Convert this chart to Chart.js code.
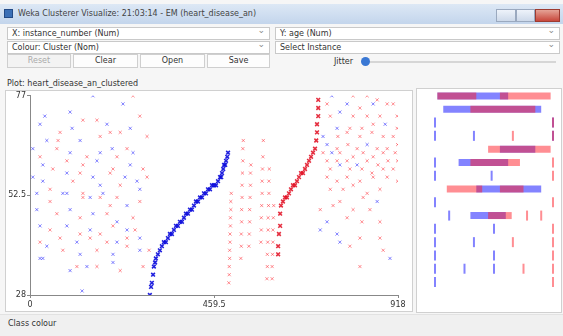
<!DOCTYPE html>
<html>
<head>
<meta charset="utf-8">
<script src="https://cdn.jsdelivr.net/npm/chart.js@4.4.0/dist/chart.umd.min.js"></script>
<style>
  body { margin: 0; width: 563px; height: 336px; overflow: hidden; position: relative;
         background: #f6f6f6; font-family: "DejaVu Sans", sans-serif; font-size: 8px; color: #333; }
  .abs { position: absolute; box-sizing: border-box; }
  #titlebar { left: 0; top: 4px; width: 563px; height: 20px; background: linear-gradient(#dde8f5, #c3d5ec); }
  #titlebar .icon { left: 4px; top: 5px; width: 9px; height: 9px; background: #3b6fb6; border: 1px solid #234a86; }
  #titlebar .txt { left: 18px; top: 5px; color: #444; white-space: nowrap; }
  .wbtn { top: 5px; height: 13px; border: 1px solid #9aa9bf; background: linear-gradient(#eef3fa, #cdd9ea); }
  .combo { height: 13px; background: #fff; border: 1px solid #c9c9c9; padding: 1px 4px; white-space: nowrap; }
  .combo:after { content: "\2304"; position: absolute; right: 4px; top: -3px; color: #888; font-size: 9px; }
  .btn { top: 54px; height: 14px; background: #fdfdfd; border: 1px solid #cfcfcf; text-align: center; line-height: 12px; }
  .panel { background: #fff; border: 1px solid #d0d0d0; }
</style>
</head>
<body>
<div id="titlebar" class="abs">
  <div class="abs icon"></div>
  <div class="abs txt">Weka Clusterer Visualize: 21:03:14 - EM (heart_disease_an)</div>
  <div class="abs wbtn" style="left:496px;width:20px"></div>
  <div class="abs wbtn" style="left:516px;width:19px"></div>
  <div class="abs wbtn" style="left:535px;width:25px;background:linear-gradient(#e5a396,#c8473b);border-color:#9d3b31"></div>
</div>

<div class="abs combo" style="left:7px;top:27px;width:263px">X: instance_number (Num)</div>
<div class="abs combo" style="left:275px;top:27px;width:285px">Y: age (Num)</div>
<div class="abs combo" style="left:7px;top:41px;width:263px">Colour: Cluster (Nom)</div>
<div class="abs combo" style="left:275px;top:41px;width:285px">Select Instance</div>

<div class="abs btn" style="left:7px;width:64px;color:#aaa;background:#f3f3f3">Reset</div>
<div class="abs btn" style="left:73px;width:65px">Clear</div>
<div class="abs btn" style="left:140px;width:65px">Open</div>
<div class="abs btn" style="left:207px;width:63px">Save</div>
<div class="abs" style="left:334px;top:57px">Jitter</div>
<div class="abs" style="left:369px;top:61px;width:187px;height:2px;background:#d6d6d6"></div>
<div class="abs" style="left:361px;top:57px;width:9px;height:9px;border-radius:50%;background:#3a78d4"></div>

<div class="abs" style="left:7px;top:79px">Plot: heart_disease_an_clustered</div>
<div class="abs panel" style="left:5px;top:90px;width:408px;height:222px"></div>
<canvas id="plot" class="abs" width="408" height="222" style="left:5px;top:90px"></canvas>
<div class="abs panel" style="left:416px;top:88px;width:146px;height:225px"></div>
<canvas id="attrs" class="abs" width="144" height="211" style="left:417px;top:89px"></canvas>

<div class="abs" style="left:0;top:314px;width:563px;height:22px;background:#f0f0f0;border-top:1px solid #e2e2e2"></div>
<div class="abs" style="left:8px;top:319px">Class colour</div>

<script>
// Axis ticks
const xTicks = [0, 459.5, 918];
const yTicks = [28, 52.5, 77];

// Main plot: [instance_number, age]
const leftBlue = [[157,77],[232,75],[37,72],[100,73],[25,70],[192,70],[105,69],[250,69],[42,66],[125,66],
  [205,64],[7,64],[100,63],[175,63],[257,63],[32,60],[167,61],[250,60],[7,57],[92,58],[157,57],[237,57],
  [32,56],[175,55],[267,56],[82,53],[182,53],[274,54],[17,53],[92,53],[150,52],[242,50],[17,49],[100,49],
  [157,48],[217,46],[25,45],[92,45],[150,44],[242,44],[274,42],[42,40],[117,41],[217,41],[32,37],[125,38],
  [207,38],[274,39],[25,37],[142,35],[207,36],[100,34],[130,29]];
const leftRed = [[257,77],[132,71],[167,71],[75,68],[200,68],[225,68],[274,72],[70,66],[175,67],[242,64],
  [292,67],[25,62],[67,64],[142,62],[217,62],[92,61],[132,60],[207,59],[282,59],[57,59],[125,58],[200,58],
  [292,57],[107,56],[225,55],[50,54],[132,53],[217,52],[50,51],[132,52],[175,52],[200,50],[274,51],[67,48],
  [125,47],[192,48],[257,47],[50,44],[125,43],[175,43],[207,45],[262,44],[25,41],[75,42],[150,42],[192,41],
  [242,42],[82,39],[167,39],[242,40],[297,39],[117,35],[167,35],[282,35],[225,34]];
const blueCurve = [[299,28],[302,30],[304,31],[307,33],[309,35],[312,36],[314,37],[319,38],[324,39],[329,40],
  [334,41],[339,41],[344,42],[349,43],[354,43],[359,44],[364,45],[369,45],[374,46],[379,46],[384,47],[389,48],
  [394,48],[399,49],[404,49],[409,50],[414,51],[419,51],[424,52],[429,52],[434,53],[439,53],[444,54],[449,54],
  [454,55],[459,55],[464,55],[469,56],[474,57],[477,57],[479,58],[482,59],[484,60],[487,60],[489,61],[492,62],[494,63]];
const redStripes = [[496,31],[497,33],[497,35],[498,37],[498,39],[499,41],[499,43],[500,45],[500,47],[501,49],[501,51],[502,53],
  [526,37],[527,40],[527,43],[528,46],[528,49],[529,52],[529,55],[530,58],[531,61],[531,64],[532,66],
  [546,40],[547,43],[548,46],[548,49],[549,52],[550,55],[550,58],[551,60],
  [576,41],[577,44],[577,47],[578,50],[579,53],[579,56],[580,59],[581,62],[582,66],
  [591,32],[592,35],[592,38],[593,41],[594,44],[594,47],[595,50],[596,53],[596,56],[597,59],
  [604,32],[604,35],[605,38],[606,41],[606,44],[607,47],[608,50]];
const redCurve = [[619,38],[619,40],[621,43],[624,45],[624,48],[626,50],[631,51],[636,52],[641,52],[646,53],
  [651,54],[656,55],[661,55],[666,56],[671,57],[676,58],[681,58],[686,59],[691,60],[696,61],[701,62],[706,63],
  [711,64],[714,66],[716,68],[716,70],[719,72],[719,74],[719,76]];
const rightBlue = [[753,77],[791,75],[856,75],[773,73],[766,69],[886,70],[731,67],[741,65],[841,65],[753,63],
  [816,60],[773,60],[866,51],[766,43],[724,44],[773,41],[898,37],[741,46]];
const rightRed = [[806,77],[841,77],[866,76],[741,75],[823,74],[891,75],[906,75],[749,72],[806,72],[841,72],
  [873,72],[916,72],[798,69],[828,69],[856,70],[916,69],[768,67],[791,68],[823,67],[853,68],[881,67],[906,67],
  [766,64],[793,65],[816,64],[866,64],[891,64],[917,65],[731,63],[773,63],[806,62],[831,63],[856,62],[881,63],
  [911,63],[741,61],[766,61],[791,61],[841,61],[868,60],[893,61],[917,61],[749,59],[798,59],[828,59],[853,58],
  [881,59],[906,59],[741,57],[766,56],[791,57],[823,56],[856,57],[891,57],[917,56],[749,54],[781,54],[806,55],
  [841,53],[873,54],[773,51],[831,52],[724,49],[756,50],[806,49],[848,49],[791,47],[828,46],[873,46],[823,42],
  [873,42],[798,40],[881,39],[823,35]];

// Attribute strips (right panel): numeric as [row, from, to], nominal as [row, value]
const blueBands = [[0,0.02,0.62],[1,0.07,0.9],[4,0.55,0.85],[5,0.2,0.62],[7,0.35,0.9],[9,0.3,0.6]];
const redBands = [[0,0.02,0.35],[0,0.55,0.98],[1,0.3,0.85],[4,0.45,0.98],[5,0.3,0.72],[7,0.1,0.4],[7,0.55,0.75],[9,0.45,0.65]];
const blueTicks = [[2,0],[2,1],[3,0],[3,0.33],[3,1],[5,0],[6,0],[6,0.48],[8,0],[9,0.12],[10,0],[10,0.5],
  [11,0],[11,0.33],[12,0],[12,0.5],[13,0],[13,0.25],[13,0.5],[14,0]];
const redTicks = [[2,1],[3,0.66],[3,1],[5,1],[6,1],[8,1],[9,0.78],[9,0.9],[10,1],[11,0.66],[11,1],[12,1],[13,0.75],[13,1],[14,1]];

const BLUE = 'rgba(30,30,255,0.55)';
const RED = 'rgba(255,30,40,0.5)';
const BLUE_DARK = 'rgba(10,10,220,0.9)';
const RED_DARK = 'rgba(225,10,30,0.85)';

Chart.defaults.font.family = '"DejaVu Sans", sans-serif';
Chart.defaults.font.size = 8;
Chart.defaults.color = '#333';

const toXY = arr => arr.map(p => ({ x: p[0], y: p[1] }));

new Chart(document.getElementById('plot'), {
  type: 'scatter',
  data: {
    datasets: [
      { data: toXY(leftRed.concat(redStripes, rightRed)), borderColor: RED, backgroundColor: RED },
      { data: toXY(redCurve), borderColor: RED_DARK, backgroundColor: RED_DARK, radius: 2.6, borderWidth: 1.6 },
      { data: toXY(leftBlue.concat(rightBlue)), borderColor: BLUE, backgroundColor: BLUE },
      { data: toXY(blueCurve), borderColor: BLUE_DARK, backgroundColor: BLUE_DARK, radius: 2.6, borderWidth: 1.6 }
    ]
  },
  options: {
    responsive: false,
    animation: false,
    layout: { padding: { top: 5, right: 15 } },
    elements: { point: { pointStyle: 'crossRot', radius: 2.2, borderWidth: 1 } },
    plugins: { legend: { display: false }, tooltip: { enabled: false } },
    scales: {
      x: {
        type: 'linear', min: 0, max: 918,
        afterBuildTicks: s => { s.ticks = xTicks.map(v => ({ value: v })); },
        afterFit: s => { s.height = 17; },
        ticks: { autoSkip: false, maxRotation: 0, padding: 2, callback: v => String(v) },
        grid: { drawOnChartArea: false, tickLength: 3, color: '#888' },
        border: { color: '#888' }
      },
      y: {
        type: 'linear', min: 28, max: 77,
        afterBuildTicks: s => { s.ticks = yTicks.map(v => ({ value: v })); },
        afterFit: s => { s.width = 25; },
        ticks: { autoSkip: false, padding: 1, callback: v => String(v) },
        grid: { drawOnChartArea: false, tickLength: 3, color: '#888' },
        border: { color: '#888' }
      }
    }
  }
});

// Right panel: one strip per attribute
const bandSets = (list, colour) => list.map(b => ({
  type: 'line', showLine: true, data: [{ x: b[1], y: b[0] }, { x: b[2], y: b[0] }],
  borderColor: colour, borderWidth: 7, pointRadius: 0, borderCapStyle: 'butt', clip: false
}));
const tickSet = (list, colour) => ({
  type: 'scatter', data: list.map(t => ({ x: t[1], y: t[0] })),
  pointStyle: 'line', rotation: 90, radius: 5, borderWidth: 2, borderColor: colour, clip: false
});

new Chart(document.getElementById('attrs'), {
  type: 'scatter',
  data: {
    datasets: [].concat(bandSets(redBands, RED), bandSets(blueBands, BLUE),
      [tickSet(redTicks, RED), tickSet(blueTicks, BLUE)])
  },
  options: {
    responsive: false,
    animation: false,
    layout: { padding: { top: 7, bottom: 18, left: 18, right: 8 } },
    plugins: { legend: { display: false }, tooltip: { enabled: false } },
    scales: {
      x: { type: 'linear', min: 0, max: 1, display: false },
      y: { type: 'linear', min: 0, max: 14, reverse: true, display: false }
    }
  }
});
</script>
</body>
</html>
